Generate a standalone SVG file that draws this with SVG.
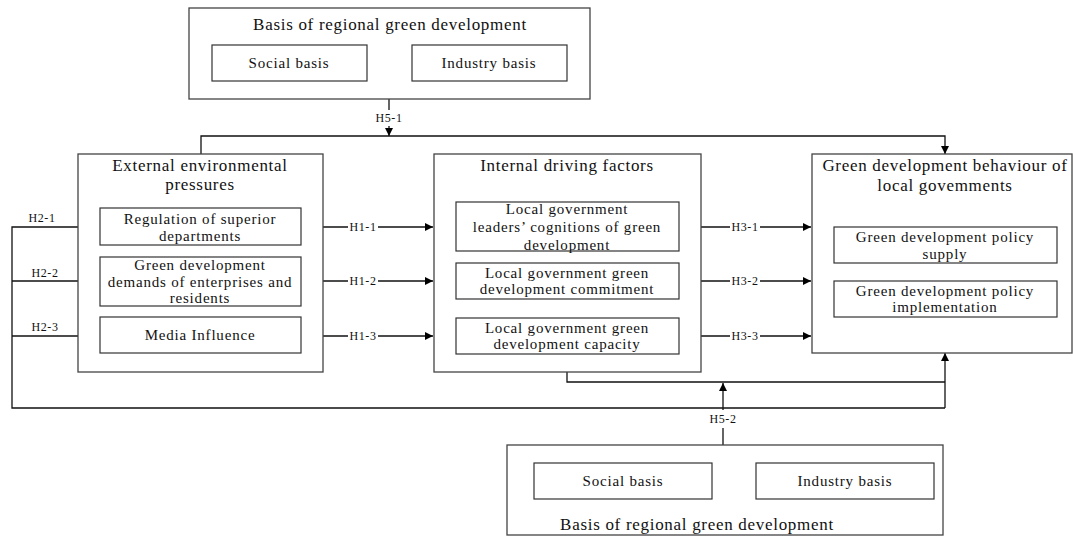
<svg xmlns="http://www.w3.org/2000/svg" width="1073" height="536" viewBox="0 0 1073 536">
  <defs>
    <marker id="arrow" viewBox="0 0 10 10" refX="10" refY="5" markerWidth="10" markerHeight="8" markerUnits="userSpaceOnUse" orient="auto">
      <path d="M0,0 L10,5 L0,10 z" fill="#000"/>
    </marker>
    <style>
      .box { fill: #fff; stroke: #444; stroke-width: 1.3; }
      .inner { fill: #fff; stroke: #333; stroke-width: 1.2; }
      .line { fill: none; stroke: #111; stroke-width: 1.3; }
      .title { font-family: "Liberation Serif", "Times New Roman", serif; font-size: 17px; letter-spacing: 0.7px; fill: #111; text-anchor: middle; dominant-baseline: central; }
      .txt { font-family: "Liberation Serif", "Times New Roman", serif; font-size: 15px; letter-spacing: 0.8px; fill: #111; text-anchor: middle; dominant-baseline: central; }
      .lbl { font-family: "Liberation Serif", "Times New Roman", serif; font-size: 12px; letter-spacing: 0.6px; fill: #111; text-anchor: middle; dominant-baseline: central; }
      .lblbg { fill: #fff; }
    </style>
  </defs>
  <rect width="1073" height="536" fill="#fff"/>

  <!-- connectors -->
  <g id="connectors">
    <!-- H5-1: top basis to behaviour box -->
    <path class="line" d="M389,99 V110"/>
    <path class="line" d="M389,126 V136" marker-end="url(#arrow)"/>
    <path class="line" d="M201,154 V136 H945 V154" marker-end="url(#arrow)"/>
    <text class="lbl" x="389" y="118">H5-1</text>

    <!-- H1: external pressures to internal factors -->
    <path class="line" d="M301,227 H433" marker-end="url(#arrow)"/>
    <path class="line" d="M301,281 H433" marker-end="url(#arrow)"/>
    <path class="line" d="M301,336 H433" marker-end="url(#arrow)"/>
    <rect class="lblbg" x="348" y="221" width="30" height="12"/>
    <rect class="lblbg" x="348" y="275" width="30" height="12"/>
    <rect class="lblbg" x="348" y="330" width="30" height="12"/>
    <text class="lbl" x="363" y="227">H1-1</text>
    <text class="lbl" x="363" y="281">H1-2</text>
    <text class="lbl" x="363" y="336">H1-3</text>

    <!-- H3: internal factors to behaviour -->
    <path class="line" d="M679,227 H811" marker-end="url(#arrow)"/>
    <path class="line" d="M679,281 H811" marker-end="url(#arrow)"/>
    <path class="line" d="M679,336 H811" marker-end="url(#arrow)"/>
    <rect class="lblbg" x="730" y="221" width="30" height="12"/>
    <rect class="lblbg" x="730" y="275" width="30" height="12"/>
    <rect class="lblbg" x="730" y="330" width="30" height="12"/>
    <text class="lbl" x="745" y="227">H3-1</text>
    <text class="lbl" x="745" y="281">H3-2</text>
    <text class="lbl" x="745" y="336">H3-3</text>

    <!-- H2: external pressures directly to behaviour -->
    <path class="line" d="M100,227 H12 V408 H945"/>
    <path class="line" d="M100,281 H12"/>
    <path class="line" d="M100,336 H12"/>
    <path class="line" d="M567,372 V382 H945"/>
    <path class="line" d="M945,408 V353" marker-end="url(#arrow)"/>
    <text class="lbl" x="42" y="218">H2-1</text>
    <text class="lbl" x="45" y="273">H2-2</text>
    <text class="lbl" x="45" y="327">H2-3</text>

    <!-- H5-2: bottom basis upward -->
    <path class="line" d="M723,445 V428"/>
    <path class="line" d="M723,410 V383" marker-end="url(#arrow)"/>
    <text class="lbl" x="723" y="419">H5-2</text>
  </g>

  <!-- top basis -->
  <g id="basis-top">
    <rect class="box" x="189" y="8" width="401" height="91"/>
    <text class="title" x="390" y="24">Basis of regional green development</text>
    <rect class="inner" x="212" y="45" width="155" height="36"/>
    <text class="txt" x="289" y="63">Social basis</text>
    <rect class="inner" x="412" y="45" width="155" height="36"/>
    <text class="txt" x="489" y="63">Industry basis</text>
  </g>

  <!-- external environmental pressures -->
  <g id="external">
    <rect class="box" x="78" y="154" width="245" height="218"/>
    <text class="title" x="200" y="165">External environmental</text>
    <text class="title" x="200" y="184">pressures</text>
    <rect class="inner" x="100" y="208" width="201" height="37"/>
    <text class="txt" x="200" y="219">Regulation of superior</text>
    <text class="txt" x="200" y="236">departments</text>
    <rect class="inner" x="100" y="257" width="201" height="49"/>
    <text class="txt" x="200" y="265">Green development</text>
    <text class="txt" x="200" y="282">demands of enterprises and</text>
    <text class="txt" x="200" y="298">residents</text>
    <rect class="inner" x="100" y="317" width="201" height="36"/>
    <text class="txt" x="200" y="335">Media Influence</text>
  </g>

  <!-- internal driving factors -->
  <g id="internal">
    <rect class="box" x="434" y="154" width="267" height="218"/>
    <text class="title" x="567" y="165">Internal driving factors</text>
    <rect class="inner" x="456" y="202" width="223" height="49"/>
    <text class="txt" x="567" y="209">Local government</text>
    <text class="txt" x="567" y="227">leaders’  cognitions of green</text>
    <text class="txt" x="567" y="245">development</text>
    <rect class="inner" x="456" y="263" width="223" height="36"/>
    <text class="txt" x="567" y="273">Local government green</text>
    <text class="txt" x="567" y="289">development commitment</text>
    <rect class="inner" x="456" y="318" width="223" height="36"/>
    <text class="txt" x="567" y="328">Local government green</text>
    <text class="txt" x="567" y="344">development capacity</text>
  </g>

  <!-- green development behaviour -->
  <g id="behaviour">
    <rect class="box" x="812" y="154" width="260" height="199"/>
    <text class="title" x="945" y="165">Green development behaviour of</text>
    <text class="title" x="945" y="185">local govemments</text>
    <rect class="inner" x="834" y="227" width="223" height="36"/>
    <text class="txt" x="945" y="237">Green development policy</text>
    <text class="txt" x="945" y="254">supply</text>
    <rect class="inner" x="834" y="281" width="223" height="36"/>
    <text class="txt" x="945" y="291">Green development policy</text>
    <text class="txt" x="945" y="307">implementation</text>
  </g>

  <!-- bottom basis -->
  <g id="basis-bottom">
    <rect class="box" x="507" y="445" width="436" height="90"/>
    <rect class="inner" x="534" y="463" width="178" height="36"/>
    <text class="txt" x="623" y="481">Social basis</text>
    <rect class="inner" x="756" y="463" width="178" height="36"/>
    <text class="txt" x="845" y="481">Industry basis</text>
    <text class="title" x="697" y="524">Basis of regional green development</text>
  </g>
</svg>
